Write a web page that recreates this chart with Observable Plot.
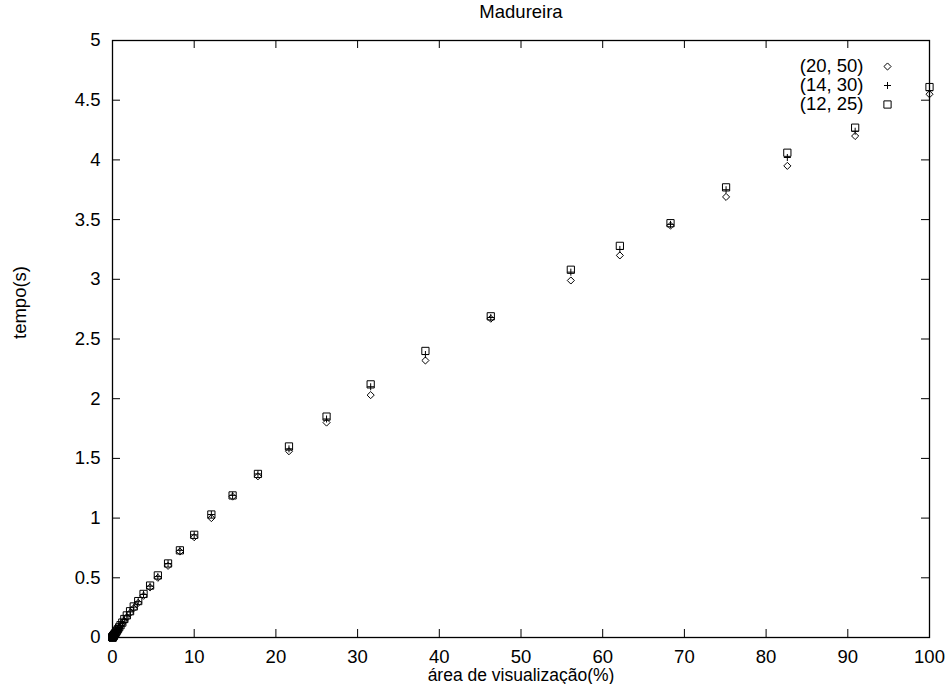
<!DOCTYPE html>
<html><head><meta charset="utf-8">
<script src="https://cdn.jsdelivr.net/npm/d3@7"></script>
<script src="https://cdn.jsdelivr.net/npm/@observablehq/plot@0.6"></script>
<style>body{margin:0;background:#fff}</style>
</head><body><div id="chart"></div>
<script>
const title = "Madureira";
const xLabel = "área de visualização(%)";
const yLabel = "tempo(s)";
const seriesNames = ["(20, 50)", "(14, 30)", "(12, 25)"];
const seriesSymbols = ["diamond2", "plus", "square2"];
const seriesRadii = [3.2, 2.4, 4.6];
const xTicks = [0, 10, 20, 30, 40, 50, 60, 70, 80, 90, 100];
const yTicks = [0, 0.5, 1, 1.5, 2, 2.5, 3, 3.5, 4, 4.5, 5];

const xValues = [100, 90.9, 82.6, 75.1, 68.3, 62.1, 56.1, 46.3, 38.3, 31.6, 26.2, 21.6,
  17.8, 14.7, 12.1, 10.0, 8.25, 6.8, 5.55, 4.6, 3.8, 3.15, 2.6, 2.15, 1.75, 1.45, 1.2,
  0.98, 0.81, 0.67, 0.55, 0.46, 0.38, 0.31, 0.26, 0.21, 0.17, 0.14, 0.12, 0.10, 0.08,
  0.065, 0.055, 0.045, 0.035, 0.03, 0.025, 0.02, 0.015, 0.01, 0.005];
const s20_50 = [4.55, 4.20, 3.95, 3.69, 3.45, 3.20, 2.99, 2.67, 2.32, 2.03, 1.80, 1.56,
  1.35, 1.18, 1.00, 0.84, 0.72, 0.60, 0.50, 0.42, 0.35, 0.29, 0.245, 0.205, 0.17, 0.14, 0.115,
  0.095, 0.078, 0.064, 0.053, 0.044, 0.037, 0.03, 0.025, 0.02, 0.017, 0.014, 0.012, 0.01, 0.008,
  0.007, 0.006, 0.005, 0.004, 0.003, 0.003, 0.002, 0.002, 0.001, 0.001];
const s14_30 = [4.58, 4.24, 4.02, 3.75, 3.46, 3.25, 3.06, 2.68, 2.37, 2.10, 1.83, 1.58,
  1.37, 1.19, 1.03, 0.86, 0.73, 0.62, 0.51, 0.43, 0.36, 0.30, 0.255, 0.215, 0.18, 0.15, 0.122,
  0.10, 0.083, 0.068, 0.056, 0.047, 0.039, 0.032, 0.027, 0.022, 0.018, 0.015, 0.013, 0.011, 0.009,
  0.007, 0.006, 0.005, 0.004, 0.003, 0.003, 0.002, 0.002, 0.001, 0.001];
const s12_25 = [4.61, 4.27, 4.06, 3.77, 3.47, 3.28, 3.08, 2.69, 2.40, 2.12, 1.85, 1.60,
  1.37, 1.19, 1.03, 0.86, 0.73, 0.62, 0.52, 0.435, 0.365, 0.305, 0.26, 0.22, 0.185, 0.155, 0.125,
  0.103, 0.085, 0.07, 0.058, 0.048, 0.04, 0.033, 0.028, 0.023, 0.019, 0.016, 0.013, 0.011, 0.009,
  0.007, 0.006, 0.005, 0.004, 0.003, 0.003, 0.002, 0.002, 0.001, 0.001];
const seriesValues = [s20_50, s14_30, s12_25];

const W = 946, H = 684, mL = 112, mR = 17, mT = 40, mB = 47;
const plotW = W - mL - mR, plotH = H - mT - mB;
const tickLen = 8;

const pointMarks = seriesValues.map((vals, i) =>
  Plot.dot(xValues.map((x, j) => ({x, y: vals[j]})), {
    x: "x", y: "y", symbol: () => seriesSymbols[i], r: seriesRadii[i],
    stroke: "black", fill: "none", strokeWidth: 1
  })
);
const legendMarks = seriesNames.flatMap((name, i) => [
  Plot.text([name], {text: d => d, frameAnchor: "top-right", lineAnchor: "middle",
    dx: -66, dy: 26 + i * 19, textAnchor: "end"}),
  Plot.dot([name], {frameAnchor: "top-right", dx: -42, dy: 26 + i * 19,
    symbol: () => seriesSymbols[i], r: seriesRadii[i], stroke: "black", fill: "none", strokeWidth: 1})
]);

const chart = Plot.plot({
  width: W, height: H,
  marginLeft: mL, marginRight: mR, marginTop: mT, marginBottom: mB,
  style: {fontFamily: "'Liberation Sans', Arial, sans-serif", fontSize: "18.5px", background: "white", color: "black"},
  x: {domain: [0, 100]},
  y: {domain: [0, 5]},
  symbol: {type: "identity"},
  marks: [
    Plot.axisX(xTicks, {tickSize: 0, tickPadding: 12, label: null, tickFormat: d => String(d)}),
    Plot.axisY(yTicks, {tickSize: 0, tickPadding: 12, label: null, tickFormat: d => String(d)}),
    Plot.ruleX(xTicks, {x: d => d, insetTop: plotH - tickLen, stroke: "black"}),
    Plot.ruleX(xTicks, {x: d => d, insetBottom: plotH - tickLen, stroke: "black"}),
    Plot.ruleY(yTicks, {y: d => d, insetRight: plotW - tickLen, stroke: "black"}),
    Plot.ruleY(yTicks, {y: d => d, insetLeft: plotW - tickLen, stroke: "black"}),
    Plot.frame({stroke: "black", strokeWidth: 1.3}),
    ...pointMarks,
    ...legendMarks,
    Plot.text([title], {text: d => d, frameAnchor: "top", lineAnchor: "middle", dy: -28}),
    Plot.text([xLabel], {text: d => d, frameAnchor: "bottom", lineAnchor: "middle", dy: 38, fontSize: 17.5}),
    Plot.text([yLabel], {text: d => d, frameAnchor: "left", lineAnchor: "middle", dx: -92, rotate: -90})
  ]
});
document.getElementById("chart").appendChild(chart);
</script>
</body></html>
